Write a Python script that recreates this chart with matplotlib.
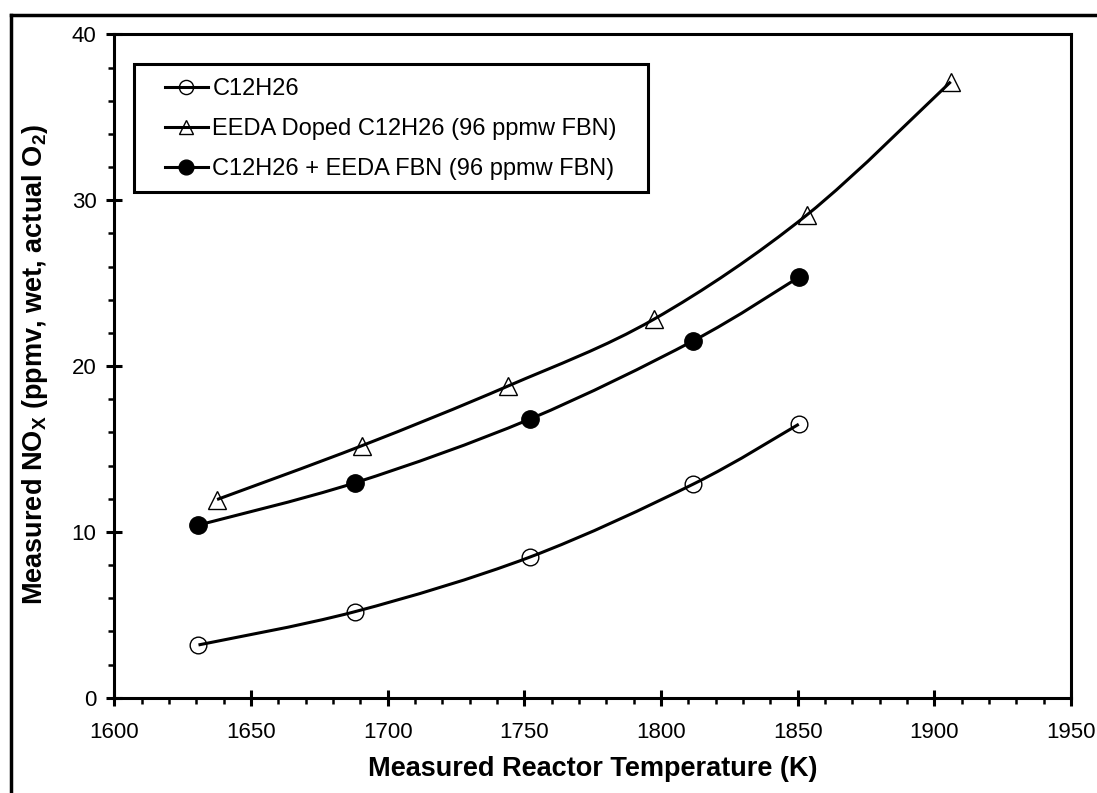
import numpy as np
import matplotlib
matplotlib.use("Agg")
import matplotlib.pyplot as plt
from matplotlib.path import Path
from matplotlib.patches import PathPatch, Rectangle
from matplotlib.lines import Line2D

# values
t_base = [1630.8, 1688.1, 1751.9, 1811.7, 1850.4]
nox_base = [3.18, 5.19, 8.47, 12.87, 16.49]

t_doped = [1637.6, 1690.5, 1744.0, 1797.4, 1853.3, 1906.0]
nox_doped = [11.95, 15.19, 18.79, 22.82, 29.10, 37.14]

t_blend = [1630.8, 1688.1, 1751.9, 1811.7, 1850.4]
nox_blend = [10.41, 12.96, 16.79, 21.51, 25.35]

labels = ["C12H26", "EEDA Doped C12H26 (96 ppmw FBN)", "C12H26 + EEDA FBN (96 ppmw FBN)"]
markers = ["o", "^", "o"]
faces = ["none", "none", "black"]

xticks = [1600, 1650, 1700, 1750, 1800, 1850, 1900, 1950]
yticks = [0, 10, 20, 30, 40]

plt.rcParams['font.family'] = ['Liberation Sans', 'DejaVu Sans']
plt.rcParams['mathtext.default'] = 'regular'


def smooth_path(x, y):
    # excel style smoothed line (cubic bezier through the points)
    pts = np.column_stack([x, y])
    n = len(pts)
    verts = [pts[0]]
    codes = [Path.MOVETO]
    for i in range(n - 1):
        p0 = pts[i - 1] if i > 0 else pts[i]
        p1 = pts[i]
        p2 = pts[i + 1]
        p3 = pts[i + 2] if i + 2 < n else pts[i + 1]
        verts += [p1 + (p2 - p0) / 6, p2 - (p3 - p1) / 6, p2]
        codes += [Path.CURVE4] * 3
    return Path(verts, codes)


fig = plt.figure(figsize=(10.97, 7.93), dpi=100)
ax = fig.add_axes([0.1042, 0.1202, 0.8721, 0.8365])

series = [(t_base, nox_base), (t_doped, nox_doped), (t_blend, nox_blend)]
sizes = [12, 12.5, 12.5]
handles = []
for (x, y), lab, m, fc, ms in zip(series, labels, markers, faces, sizes):
    ax.add_patch(PathPatch(smooth_path(x, y), fill=False, lw=2.2, edgecolor="black"))
    ax.plot(x, y, linestyle="none", marker=m, ms=ms, mfc=fc, mec="black", mew=1.0, zorder=3)
    handles.append(Line2D([], [], color="black", lw=2.2, marker=m, ms=ms * 0.85,
                          mfc=fc, mec="black", mew=1.0, label=lab))

ax.set_xlim(1600, 1950)
ax.set_ylim(0, 40)
ax.set_xticks(xticks)
ax.set_yticks(yticks)
ax.set_xticks(np.arange(1600, 1951, 10), minor=True)
ax.set_yticks(np.arange(0, 41, 2), minor=True)
ax.tick_params(which="major", direction="inout", length=11.5, width=2.2, labelsize=16, color="black")
ax.tick_params(which="minor", direction="out", length=4.5, width=1.8)
ax.tick_params(axis="x", which="major", pad=12)
ax.tick_params(axis="y", which="major", pad=7)
for s in ax.spines.values():
    s.set_linewidth(2.2)

ax.set_xlabel("Measured Reactor Temperature (K)", fontsize=19.5, fontweight="bold", labelpad=9)
fig.text(0.032, 0.54, r"Measured NO$_{X}$ (ppmv, wet, actual O$_{2}$)", rotation=90,
         fontsize=19.5, fontweight="bold", ha="center", va="center")

leg = fig.legend(handles=handles, loc="upper left", bbox_to_anchor=(0.1505, 0.9016),
                 frameon=False, fontsize=17, handlelength=1.8, handletextpad=0.2,
                 labelspacing=0.76, borderpad=0, borderaxespad=0)
fig.add_artist(Rectangle((134 / 1097, 1 - 192 / 793), (648 - 134) / 1097, 128 / 793,
                         transform=fig.transFigure, fill=False, lw=2.2, edgecolor="black"))

# outer chart border (cut off at right and bottom in the original)
fig.add_artist(Line2D([11 / 1097, 1.01], [1 - 15 / 793, 1 - 15 / 793], transform=fig.transFigure,
                      color="black", lw=2.5))
fig.add_artist(Line2D([11 / 1097, 11 / 1097], [1 - 15 / 793, -0.01], transform=fig.transFigure,
                      color="black", lw=2.5))

fig.savefig("out.png", dpi=100)
